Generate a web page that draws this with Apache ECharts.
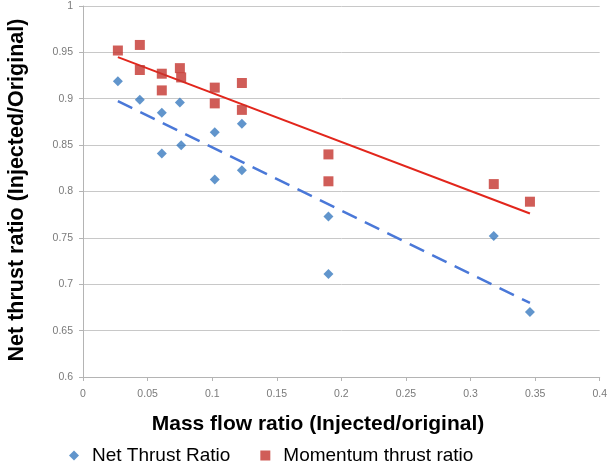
<!DOCTYPE html>
<html>
<head>
<meta charset="utf-8">
<script src="https://cdn.jsdelivr.net/npm/echarts@6/dist/echarts.min.js"></script>
<style>
  html, body { margin: 0; padding: 0; background: #ffffff; }
  #chart { width: 610px; height: 465px; }
</style>
</head>
<body>
<div id="chart"></div>
<script>
// Mass flow ratio (injected/original) for each test point
const netX = [0.027, 0.044, 0.061, 0.061, 0.075, 0.076, 0.102, 0.102, 0.123, 0.123, 0.19, 0.19, 0.318, 0.346];
// Net thrust ratio (injected/original)
const netY = [0.919, 0.899, 0.885, 0.841, 0.896, 0.850, 0.864, 0.813, 0.873, 0.823, 0.773, 0.711, 0.752, 0.670];

const momX = [0.027, 0.044, 0.044, 0.061, 0.061, 0.075, 0.076, 0.102, 0.102, 0.123, 0.123, 0.19, 0.19, 0.318, 0.346];
// Momentum thrust ratio (injected/original)
const momY = [0.952, 0.958, 0.931, 0.927, 0.909, 0.933, 0.923, 0.912, 0.895, 0.917, 0.888, 0.840, 0.811, 0.808, 0.789];

const xTicks = { min: 0, max: 0.4, step: 0.05 };
const yTicks = { min: 0.6, max: 1, step: 0.05 };

const seriesNames = ['Net Thrust Ratio', 'Momentum thrust ratio'];
const xTitle = 'Mass flow ratio (Injected/original)';
const yTitle = 'Net thrust ratio (Injected/Original)';

// Least-squares linear trend line spanning the data range
function trend(xs, ys) {
  const n = xs.length;
  const mx = xs.reduce((a, b) => a + b, 0) / n;
  const my = ys.reduce((a, b) => a + b, 0) / n;
  let sxy = 0, sxx = 0;
  for (let i = 0; i < n; i++) {
    sxy += (xs[i] - mx) * (ys[i] - my);
    sxx += (xs[i] - mx) * (xs[i] - mx);
  }
  const k = sxy / sxx, b = my - k * mx;
  const x0 = Math.min(...xs), x1 = Math.max(...xs);
  return [[x0, k * x0 + b], [x1, k * x1 + b]];
}

const pairs = (xs, ys) => xs.map((x, i) => [x, ys[i]]);

const FONT = '"Liberation Sans", Arial, sans-serif';
const chart = echarts.init(document.getElementById('chart'), null, { renderer: 'canvas' });

chart.setOption({
  animation: false,
  backgroundColor: '#ffffff',
  grid: { left: 83, right: 4, top: 6, bottom: 88, containLabel: false },
  xAxis: {
    type: 'value',
    min: xTicks.min, max: xTicks.max, interval: xTicks.step,
    axisLine: { show: true, lineStyle: { color: '#b4b4b4', width: 1 } },
    axisTick: { show: true, length: 4, lineStyle: { color: '#b4b4b4' } },
    axisLabel: { color: '#7a7a7a', fontSize: 10.5, fontFamily: FONT, margin: 12 },
    splitLine: { show: false }
  },
  yAxis: {
    type: 'value',
    min: yTicks.min, max: yTicks.max, interval: yTicks.step,
    axisLine: { show: true, lineStyle: { color: '#b4b4b4', width: 1 } },
    axisTick: { show: true, length: 4, lineStyle: { color: '#b4b4b4' } },
    axisLabel: { color: '#7a7a7a', fontSize: 10.5, fontFamily: FONT, margin: 10 },
    splitLine: { show: true, lineStyle: { color: '#c8c8c8', width: 1 } }
  },
  legend: {
    data: [
      { name: seriesNames[0], icon: 'diamond' },
      { name: seriesNames[1], icon: 'rect' }
    ],
    left: 64, top: 441,
    itemWidth: 10, itemHeight: 10, itemGap: 30,
    textStyle: { fontSize: 19, fontFamily: FONT, color: '#000000', padding: [0, 0, 0, 8] }
  },
  graphic: [
    {
      type: 'text',
      x: 318, y: 424,
      style: {
        text: xTitle,
        textAlign: 'center', textVerticalAlign: 'middle',
        font: 'bold 21px ' + FONT, fill: '#000000'
      }
    },
    {
      type: 'text',
      x: 17.5, y: 190, rotation: Math.PI / 2,
      style: {
        text: yTitle,
        textAlign: 'center', textVerticalAlign: 'middle',
        font: 'bold 21.5px ' + FONT, fill: '#000000'
      }
    }
  ],
  series: [
    {
      name: seriesNames[0], type: 'scatter', symbol: 'diamond', symbolSize: 10,
      itemStyle: { color: '#3a7abf' }, z: 3,
      data: pairs(netX, netY)
    },
    {
      name: seriesNames[1], type: 'scatter', symbol: 'rect', symbolSize: 10,
      itemStyle: { color: '#c4352e' }, z: 3,
      data: pairs(momX, momY)
    },
    {
      name: 'Net trend', type: 'line', showSymbol: false, symbol: 'none', z: 2,
      lineStyle: { color: '#4a78d8', width: 2.5, type: [16, 9] },
      data: trend(netX, netY)
    },
    {
      name: 'Momentum trend', type: 'line', showSymbol: false, symbol: 'none', z: 2,
      lineStyle: { color: '#e2261c', width: 2 },
      data: trend(momX, momY)
    }
  ]
});
</script>
</body>
</html>
